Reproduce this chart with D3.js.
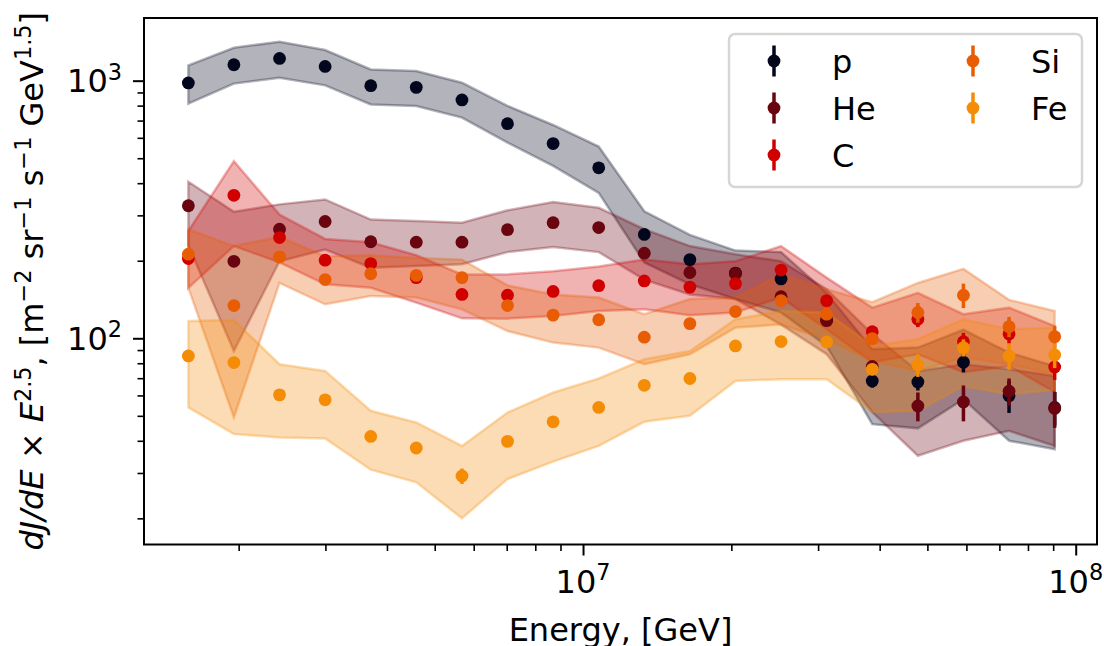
<!DOCTYPE html>
<html>
<head>
<meta charset="utf-8">
<script src="https://cdn.jsdelivr.net/npm/d3@7"></script>
<style>
  body { margin: 0; background: #fff; }
  text { font-family: "DejaVu Sans", sans-serif; fill: #000; }
</style>
</head>
<body>
<div id="chart"></div>
<script>
// energy bin centres, GeV
const energies = [1.581e6, 1.956e6, 2.421e6, 2.996e6, 3.708e6, 4.587e6, 5.679e6, 7.026e6, 8.695e6, 1.076e7,
                  1.3315e7, 1.6477e7, 2.039e7, 2.523e7, 3.122e7, 3.864e7, 4.782e7, 5.917e7, 7.323e7, 9.064e7];

const seriesNames = ["p", "He", "C", "Si", "Fe"];
const seriesColors = ["#03071e", "#6a040f", "#d00000", "#e85d04", "#f48c06"];

const pFlux = [980, 1153, 1220, 1136, 956, 942, 842, 681, 570, 459, 253, 202, 179, 170, 118, 68.3, 67.7, 80.7, 59.8, 53.9];
const pErr  = [15, 17, 18, 17, 14, 14, 13, 11, 9, 8, 5, 5, 5, 5, 5, 4, 5, 7, 8.5, 8];
const pLow  = [815, 974, 1027, 959, 809, 798, 719, 575, 467, 367, 197, 162, 142, 126, 93.4, 46.4, 44.7, 58, 40, 37.1];
const pHigh = [1146, 1342, 1416, 1315, 1106, 1090, 982, 798, 673, 555, 311, 252, 219, 216, 150, 90.7, 92, 108, 88, 78];

const heFlux = [327, 199, 265, 284, 237, 236, 236, 264, 281, 269, 214, 180, 178, 145, 117, 77.7, 54.6, 56.6, 62.3, 53.4];
const heErr  = [5, 4, 4, 4, 4, 4, 4, 4, 4, 4, 4, 4, 4, 4, 4, 3, 7, 9, 7.5, 8.5];
const heLow  = [229, 89.3, 199, 221, 188, 191, 194, 216, 226, 216, 169, 148, 142, 113, 86.7, 51.7, 35, 40, 43.7, 38.2];
const heHigh = [405, 310, 331, 346, 289, 285, 281, 314, 338, 321, 265, 228, 212, 199, 155, 104, 74.5, 79.3, 75.8, 71.3];

const cFlux = [204, 359, 246, 201, 195, 172, 148, 147, 152, 160, 167, 158, 163, 184, 140, 106, 118.5, 97, 104, 77.4];
const cErr  = [4, 6, 4, 4, 3, 3, 3, 3, 3, 3, 3, 3, 3, 4, 4, 3, 8, 8, 8.5, 8.5];
const cLow  = [157, 228, 197, 162, 157, 137.5, 119.5, 119.2, 122, 127.6, 129.5, 122.8, 125.8, 144, 108.4, 80.7, 86.7, 73.8, 78.1, 61.8];
const cHigh = [261, 487, 302, 243, 236, 210, 177, 177, 182, 190, 202, 194, 199, 228, 172, 131.5, 150, 124, 131.5, 111.6];

const siFlux = [212, 134, 207, 169, 178, 175.5, 172, 134, 123, 118, 101, 114, 127, 140, 124, 99.7, 126, 147, 111, 101.5];
const siErr  = [4, 3, 4, 3, 3, 3, 3, 3, 3, 3, 3, 3, 3, 4, 4, 4, 11, 16, 10, 10];
const siLow  = [157, 49.3, 164, 135.5, 146, 144, 129.5, 106.7, 96.2, 92, 79.3, 86.7, 110, 113, 99.1, 81.7, 74.7, 84.2, 79.3, 72.5];
const siHigh = [265, 228, 248, 208, 210, 205, 202, 160.5, 148, 144, 124, 142, 144, 177, 155, 138, 164, 186, 141, 127.6];

const feFlux = [85.4, 80.5, 60.3, 57.7, 41.6, 37.5, 29.2, 39.8, 47.4, 53.9, 65.7, 69.8, 93.4, 97.1, 96.8, 75.8, 78.8, 92, 85.4, 86.1];
const feErr  = [1.5, 1.5, 1.2, 1.2, 1.2, 1.2, 2, 1.5, 1.5, 1.5, 1.5, 1.5, 3, 3, 3, 4, 8, 7, 10, 9.5];
const feLow  = [53.9, 42.5, 41.2, 40.8, 30.9, 27.6, 20, 28.4, 33.2, 38.2, 47.4, 50, 68.3, 69.4, 69.4, 51.7, 52.3, 65.3, 60.7, 63.1];
const feHigh = [116.7, 117.7, 79.3, 74.7, 52.3, 47.1, 38.2, 51.5, 61.6, 69.8, 82.9, 89.3, 118.5, 127.6, 126, 93.4, 99.1, 118.5, 108.4, 110];

const xMajorTicks = [1e7, 1e8];
const xTickLabels = [["10", "7"], ["10", "8"]];
const yMajorTicks = [1e2, 1e3];
const yTickLabels = [["10", "2"], ["10", "3"]];

const series = [
    {name: seriesNames[0], color: seriesColors[0], flux: pFlux, err: pErr, low: pLow, high: pHigh},
    {name: seriesNames[1], color: seriesColors[1], flux: heFlux, err: heErr, low: heLow, high: heHigh},
    {name: seriesNames[2], color: seriesColors[2], flux: cFlux, err: cErr, low: cLow, high: cHigh},
    {name: seriesNames[3], color: seriesColors[3], flux: siFlux, err: siErr, low: siLow, high: siHigh},
    {name: seriesNames[4], color: seriesColors[4], flux: feFlux, err: feErr, low: feLow, high: feHigh}
];

const width = 1104;
const height = 646;
const margin = {top: 18, right: 7, bottom: 101.5, left: 144};
const innerWidth = width - margin.left - margin.right;
const innerHeight = height - margin.top - margin.bottom;
const fontSize = 32;
const supSize = 22.4;

const svg = d3.select("#chart")
    .append("svg")
    .attr("width", width)
    .attr("height", height)
    .attr("viewBox", `0 0 ${width} ${height}`);

const innerChart = svg.append("g")
    .attr("transform", `translate(${margin.left}, ${margin.top})`);

const xScale = d3.scaleLog()
    .domain([1.285e6, 1.1046e8])
    .range([0, innerWidth]);

const yScale = d3.scaleLog()
    .domain([15.83, 1751])
    .range([innerHeight, 0]);

// uncertainty bands
const area = d3.area()
    .x((d, i) => xScale(energies[i]))
    .y0(d => yScale(d[0]))
    .y1(d => yScale(d[1]));

innerChart.append("g")
    .selectAll("path")
    .data(series)
    .join("path")
    .attr("d", s => area(s.low.map((lo, i) => [lo, s.high[i]])) + "Z")
    .attr("fill", s => s.color)
    .attr("fill-opacity", 0.3)
    .attr("stroke", s => s.color)
    .attr("stroke-opacity", 0.3)
    .attr("stroke-width", 2.5)
    .attr("stroke-linejoin", "miter");

// points with error bars
const seriesGroups = innerChart.append("g")
    .selectAll("g")
    .data(series)
    .join("g");

seriesGroups.each(function(s) {
    const g = d3.select(this);
    const pts = s.flux.map((f, i) => ({e: energies[i], f: f, err: s.err[i]}));
    g.selectAll("line")
        .data(pts)
        .join("line")
        .attr("x1", d => xScale(d.e))
        .attr("x2", d => xScale(d.e))
        .attr("y1", d => yScale(d.f - d.err))
        .attr("y2", d => yScale(d.f + d.err))
        .attr("stroke", s.color)
        .attr("stroke-width", 3.5);
    g.selectAll("circle")
        .data(pts)
        .join("circle")
        .attr("cx", d => xScale(d.e))
        .attr("cy", d => yScale(d.f))
        .attr("r", 6.4)
        .attr("fill", s.color);
});

// axes
const xMinor = xScale.ticks().filter(t => !xMajorTicks.includes(t));
const yMinor = yScale.ticks().filter(t => !yMajorTicks.includes(t));

const styleAxis = (g, w) => {
    g.select(".domain").remove();
    g.selectAll(".tick line").attr("stroke", "#000").attr("stroke-width", w);
    g.selectAll(".tick text").remove();
};

innerChart.append("g")
    .attr("transform", `translate(0, ${innerHeight})`)
    .call(d3.axisBottom(xScale).tickValues(xMinor).tickSize(6.5).tickFormat(""))
    .call(g => styleAxis(g, 1.6));
innerChart.append("g")
    .attr("transform", `translate(0, ${innerHeight})`)
    .call(d3.axisBottom(xScale).tickValues(xMajorTicks).tickSize(11).tickFormat(""))
    .call(g => styleAxis(g, 2));
innerChart.append("g")
    .call(d3.axisLeft(yScale).tickValues(yMinor).tickSize(6.5).tickFormat(""))
    .call(g => styleAxis(g, 1.6));
innerChart.append("g")
    .call(d3.axisLeft(yScale).tickValues(yMajorTicks).tickSize(11).tickFormat(""))
    .call(g => styleAxis(g, 2));

const xLabels = innerChart.append("g")
    .selectAll("text")
    .data(xMajorTicks)
    .join("text")
    .attr("x", d => xScale(d))
    .attr("y", innerHeight + 48.2)
    .attr("text-anchor", "middle")
    .style("font-size", fontSize + "px");
xLabels.append("tspan").text((d, i) => xTickLabels[i][0]);
xLabels.append("tspan").attr("dy", -12.5).style("font-size", supSize + "px").text((d, i) => xTickLabels[i][1]);

const yLabels = innerChart.append("g")
    .selectAll("text")
    .data(yMajorTicks)
    .join("text")
    .attr("x", -22)
    .attr("y", d => yScale(d) + 11.6)
    .attr("text-anchor", "end")
    .style("font-size", fontSize + "px");
yLabels.append("tspan").text((d, i) => yTickLabels[i][0]);
yLabels.append("tspan").attr("dy", -12.5).style("font-size", supSize + "px").text((d, i) => yTickLabels[i][1]);

// frame
innerChart.append("rect")
    .attr("width", innerWidth)
    .attr("height", innerHeight)
    .attr("fill", "none")
    .attr("stroke", "#000")
    .attr("stroke-width", 2);

// axis titles
svg.append("text")
    .attr("x", margin.left + innerWidth / 2)
    .attr("y", 641)
    .attr("text-anchor", "middle")
    .style("font-size", fontSize + "px")
    .text("Energy, [GeV]");

const yTitle = svg.append("text")
    .attr("transform", `translate(43, ${margin.top + innerHeight / 2}) rotate(-90)`)
    .attr("text-anchor", "middle")
    .style("font-size", fontSize + "px");
const yParts = [
    ["dJ/dE", "i"], [" \u00d7 ", ""], ["E", "i"], ["2.5", "s"], [", [m", ""], ["\u22122", "s"],
    [" sr", ""], ["\u22121", "s"], [" s", ""], ["\u22121", "s"], [" GeV", ""], ["1.5", "s"], ["]", ""]
];
let raised = false;
yParts.forEach(([txt, kind]) => {
    const t = yTitle.append("tspan").text(txt);
    if (kind === "i") t.style("font-style", "italic");
    if (kind === "s") {
        t.style("font-size", supSize + "px").attr("dy", -12.5);
        raised = true;
    } else if (raised) {
        t.attr("dy", 12.5);
        raised = false;
    }
});

// legend
const legend = svg.append("g");
legend.append("rect")
    .attr("x", 729)
    .attr("y", 34)
    .attr("width", 353)
    .attr("height", 153)
    .attr("rx", 6)
    .attr("fill", "#fff")
    .attr("fill-opacity", 0.8)
    .attr("stroke", "#d6d6d6")
    .attr("stroke-width", 2.5);

const legendItems = legend.selectAll("g.item")
    .data(series)
    .join("g")
    .attr("class", "item")
    .attr("transform", (s, i) => `translate(${i < 3 ? 774 : 973}, ${61 + (i % 3) * 47})`);

legendItems.append("line")
    .attr("y1", -15.5)
    .attr("y2", 15.5)
    .attr("stroke", s => s.color)
    .attr("stroke-width", 3.5);
legendItems.append("circle")
    .attr("r", 6.4)
    .attr("fill", s => s.color);
legendItems.append("text")
    .attr("x", 58)
    .attr("y", 11.7)
    .style("font-size", fontSize + "px")
    .text(s => s.name);
</script>
</body>
</html>
